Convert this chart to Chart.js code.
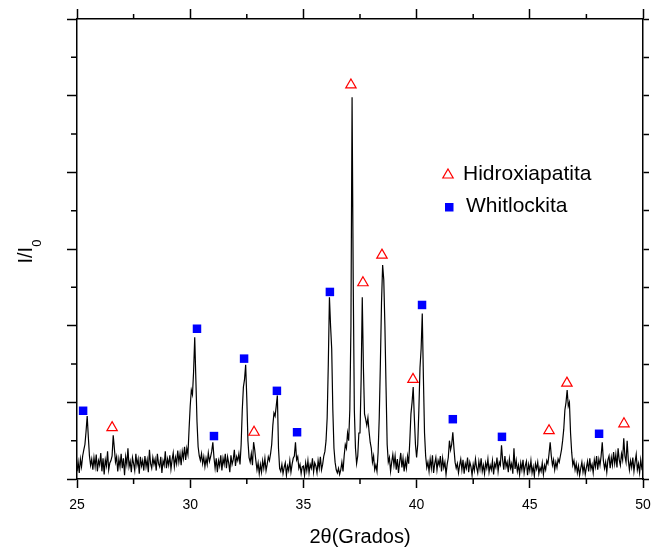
<!DOCTYPE html>
<html>
<head>
<meta charset="utf-8">
<script src="https://cdn.jsdelivr.net/npm/chart.js@4.4.1/dist/chart.umd.min.js"></script>
<style>
  html, body { margin: 0; padding: 0; background: #fff; }
  #wrap { width: 656px; height: 553px; position: relative; }
</style>
</head>
<body>
<div id="wrap"><canvas id="xrdChart"></canvas></div>
<script>
// Scan grid (2theta, degrees)
const thetaStart = 25;
const thetaStep = 0.05;

// Measured intensity, one row = 0.5 degree (10 samples)
const intensity = [
  0.10, 0.22, 0.08, 0.26, 0.16, 0.30, 0.38, 0.45, 0.62, 0.82, // 25.0
  0.55, 0.30, 0.18, 0.26, 0.12, 0.28, 0.16, 0.32, 0.10, 0.24, // 25.5
  0.18, 0.34, 0.10, 0.27, 0.06, 0.25, 0.17, 0.36, 0.12, 0.21, // 26.0
  0.24, 0.30, 0.57, 0.40, 0.22, 0.29, 0.10, 0.26, 0.16, 0.33, // 26.5
  0.14, 0.27, 0.05, 0.29, 0.19, 0.40, 0.16, 0.23, 0.09, 0.28, // 27.0
  0.20, 0.11, 0.33, 0.18, 0.26, 0.07, 0.29, 0.17, 0.24, 0.11, // 27.5
  0.30, 0.16, 0.25, 0.09, 0.38, 0.20, 0.14, 0.28, 0.19, 0.26, // 28.0
  0.11, 0.33, 0.20, 0.16, 0.29, 0.08, 0.24, 0.18, 0.36, 0.14, // 28.5
  0.26, 0.18, 0.31, 0.13, 0.25, 0.34, 0.16, 0.28, 0.20, 0.37, // 29.0
  0.22, 0.33, 0.18, 0.36, 0.27, 0.42, 0.25, 0.40, 0.32, 0.65, // 29.5
  0.95, 1.16, 1.10, 1.40, 1.85, 1.30, 0.75, 0.42, 0.30, 0.24, // 30.0
  0.33, 0.20, 0.29, 0.16, 0.27, 0.19, 0.34, 0.23, 0.29, 0.36, // 30.5
  0.48, 0.28, 0.14, 0.27, 0.09, 0.24, 0.17, 0.31, 0.11, 0.27, // 31.0
  0.19, 0.33, 0.14, 0.29, 0.21, 0.09, 0.31, 0.19, 0.25, 0.38, // 31.5
  0.17, 0.29, 0.24, 0.33, 0.19, 0.45, 0.90, 1.20, 1.30, 1.49, // 32.0
  1.05, 0.50, 0.28, 0.22, 0.33, 0.18, 0.48, 0.38, 0.24, 0.12, // 32.5
  0.21, 0.07, 0.19, 0.09, 0.24, 0.14, 0.27, 0.11, 0.19, 0.29, // 33.0
  0.24, 0.33, 0.45, 0.70, 0.86, 0.82, 0.95, 1.09, 0.40, 0.14, // 33.5
  0.10, 0.19, 0.07, 0.15, 0.21, 0.05, 0.17, 0.11, 0.24, 0.09, // 34.0
  0.19, 0.27, 0.30, 0.48, 0.25, 0.29, 0.14, 0.19, 0.07, 0.16, // 34.5
  0.17, 0.05, 0.21, 0.11, 0.24, 0.08, 0.19, 0.14, 0.27, 0.09, // 35.0
  0.21, 0.17, 0.08, 0.24, 0.14, 0.29, 0.12, 0.19, 0.30, 0.36, // 35.5
  0.50, 0.80, 1.50, 2.37, 2.00, 1.70, 0.90, 0.40, 0.22, 0.12, // 36.0
  0.08, 0.14, 0.06, 0.12, 0.22, 0.10, 0.30, 0.45, 0.40, 0.60, // 36.5
  0.50, 0.90, 2.00, 4.98, 2.60, 0.90, 0.40, 0.20, 0.30, 0.60, // 37.0
  0.60, 1.30, 2.37, 1.46, 0.85, 0.78, 0.70, 0.80, 0.62, 0.48, // 37.5
  0.40, 0.22, 0.30, 0.12, 0.18, 0.10, 0.35, 0.80, 1.50, 2.30, // 38.0
  2.79, 2.60, 2.00, 1.20, 0.45, 0.22, 0.28, 0.10, 0.22, 0.32, // 38.5
  0.18, 0.30, 0.12, 0.26, 0.08, 0.22, 0.34, 0.15, 0.27, 0.10, // 39.0
  0.24, 0.14, 0.30, 0.20, 0.50, 0.85, 1.00, 1.20, 0.80, 0.45, // 39.5
  0.28, 0.45, 0.90, 1.45, 1.70, 2.16, 1.33, 0.60, 0.30, 0.15, // 40.0
  0.22, 0.10, 0.26, 0.14, 0.31, 0.08, 0.20, 0.28, 0.12, 0.24, // 40.5
  0.18, 0.30, 0.10, 0.27, 0.15, 0.22, 0.06, 0.19, 0.28, 0.50, // 41.0
  0.38, 0.45, 0.61, 0.40, 0.22, 0.14, 0.20, 0.08, 0.18, 0.26, // 41.5
  0.12, 0.25, 0.07, 0.20, 0.14, 0.28, 0.09, 0.22, 0.16, 0.05, // 42.0
  0.19, 0.11, 0.26, 0.15, 0.08, 0.23, 0.13, 0.27, 0.10, 0.18, // 42.5
  0.07, 0.21, 0.14, 0.26, 0.09, 0.18, 0.12, 0.24, 0.06, 0.20, // 43.0
  0.15, 0.28, 0.10, 0.22, 0.18, 0.44, 0.25, 0.12, 0.30, 0.16, // 43.5
  0.22, 0.09, 0.26, 0.14, 0.20, 0.07, 0.40, 0.13, 0.24, 0.10, // 44.0
  0.18, 0.06, 0.21, 0.12, 0.25, 0.08, 0.17, 0.23, 0.05, 0.19, // 44.5
  0.11, 0.24, 0.08, 0.16, 0.04, 0.20, 0.13, 0.22, 0.07, 0.15, // 45.0
  0.10, 0.21, 0.06, 0.18, 0.12, 0.24, 0.20, 0.33, 0.48, 0.30, // 45.5
  0.18, 0.25, 0.12, 0.22, 0.15, 0.26, 0.22, 0.30, 0.38, 0.50, // 46.0
  0.65, 0.90, 1.00, 1.16, 0.95, 1.00, 0.60, 0.35, 0.18, 0.24, // 46.5
  0.12, 0.20, 0.08, 0.17, 0.05, 0.14, 0.22, 0.09, 0.18, 0.06, // 47.0
  0.15, 0.23, 0.10, 0.27, 0.13, 0.19, 0.08, 0.25, 0.16, 0.30, // 47.5
  0.12, 0.26, 0.18, 0.30, 0.48, 0.24, 0.14, 0.22, 0.09, 0.25, // 48.0
  0.30, 0.14, 0.28, 0.18, 0.35, 0.20, 0.32, 0.15, 0.40, 0.25, // 48.5
  0.18, 0.33, 0.25, 0.53, 0.30, 0.22, 0.50, 0.25, 0.12, 0.24, // 49.0
  0.15, 0.28, 0.10, 0.22, 0.32, 0.12, 0.20, 0.08, 0.25, 0.14, // 49.5
  0.18                                                        // 50.0
];

// Phase markers
const hapTheta = [26.55, 32.82, 37.10, 37.63, 38.47, 39.84, 45.85, 46.64, 49.16];
const hapLevel = [0.67, 0.61, 5.14, 2.56, 2.92, 1.30, 0.63, 1.25, 0.72];
const whitTheta = [25.27, 30.30, 31.05, 32.38, 33.83, 34.72, 36.17, 40.24, 41.60, 43.77, 48.06];
const whitLevel = [0.89, 1.96, 0.56, 1.57, 1.15, 0.61, 2.44, 2.27, 0.78, 0.55, 0.59];

// Minor tick positions
const minorTheta = [27.5, 32.5, 37.5, 42.5, 47.5];
const minorLevel = [0.5, 1.5, 2.5, 3.5, 4.5, 5.5];

const FONT = '"Liberation Sans", Arial, sans-serif';

const patternPoints = intensity.map((v, i) => ({ x: thetaStart + i * thetaStep, y: v }));
const hapPoints = hapTheta.map((t, i) => ({ x: t, y: hapLevel[i] }));
const whitPoints = whitTheta.map((t, i) => ({ x: t, y: whitLevel[i] }));

// minor ticks, axis titles and the legend box
const framePlugin = {
    id: 'frame',
    afterDraw(chart) {
        const { ctx, chartArea: a, scales } = chart;
        ctx.save();
        ctx.strokeStyle = '#000';
        ctx.lineWidth = 1.5;
        ctx.beginPath();
        minorTheta.forEach(t => {
            const px = scales.x.getPixelForValue(t);
            ctx.moveTo(px, a.bottom); ctx.lineTo(px, a.bottom + 5);
            ctx.moveTo(px, a.top); ctx.lineTo(px, a.top - 5);
        });
        minorLevel.forEach(v => {
            const py = scales.y.getPixelForValue(v);
            ctx.moveTo(a.left, py); ctx.lineTo(a.left - 6, py);
        });
        ctx.stroke();

        ctx.fillStyle = '#000';
        ctx.font = '20px ' + FONT;
        ctx.textAlign = 'center';
        ctx.textBaseline = 'middle';
        ctx.fillText('2\u03b8(Grados)', (a.left + a.right) / 2, 537);

        // I/I0 rotated
        ctx.save();
        ctx.translate(32, 263.5);
        ctx.rotate(-Math.PI / 2);
        ctx.textAlign = 'left';
        ctx.textBaseline = 'alphabetic';
        ctx.font = '20px ' + FONT;
        ctx.fillText('I/I', 0, 0);
        const w = ctx.measureText('I/I').width;
        ctx.font = '13px ' + FONT;
        ctx.fillText('0', w, 9);
        ctx.restore();

        // legend
        ctx.lineWidth = 1.2;
        ctx.strokeStyle = '#ff0000';
        ctx.fillStyle = 'rgba(255,255,255,0)';
        Chart.helpers.drawPoint(ctx, { pointStyle: 'triangle', radius: 6, rotation: 0, borderWidth: 1.2 }, 448, 175);
        ctx.fillStyle = '#0000ff';
        ctx.fillRect(445, 203, 8.5, 8.5);
        ctx.fillStyle = '#000';
        ctx.font = '21px ' + FONT;
        ctx.textAlign = 'left';
        ctx.textBaseline = 'middle';
        ctx.fillText('Hidroxiapatita', 463, 174);
        ctx.fillText('Whitlockita', 466, 206);
        ctx.restore();
    }
};

const axisGrid = (len) => ({
    display: true,
    drawOnChartArea: false,
    drawTicks: true,
    tickLength: len,
    tickWidth: 1.5,
    tickColor: '#000',
    color: '#000'
});
const axisBorder = { display: true, color: '#000', width: 1.5 };

// fixed box sizes so the plot area lands where the reference has it
const fixBox = (h, w) => s => {
    if (h !== null) s.height = h;
    if (w !== null) s.width = w;
    s.paddingLeft = 0; s.paddingRight = 0; s.paddingTop = 0; s.paddingBottom = 0;
};

const xrdCtx = document.getElementById('xrdChart').getContext('2d');
new Chart(xrdCtx, {
    type: 'scatter',
    data: {
        datasets: [{
            label: 'Hidroxiapatita',
            data: hapPoints,
            pointStyle: 'triangle',
            pointRadius: 6,
            borderColor: '#ff0000',
            backgroundColor: 'rgba(255,255,255,0)',
            borderWidth: 1.2,
            showLine: false
        }, {
            label: 'Whitlockita',
            data: whitPoints,
            pointStyle: 'rect',
            pointRadius: 6,
            borderColor: '#0000ff',
            backgroundColor: '#0000ff',
            borderWidth: 0,
            showLine: false
        }, {
            label: 'pattern',
            data: patternPoints,
            showLine: true,
            borderColor: '#000',
            borderWidth: 1.2,
            pointRadius: 0,
            tension: 0
        }]
    },
    options: {
        responsive: true,
        maintainAspectRatio: false,
        animation: false,
        layout: { padding: 0 },
        plugins: {
            legend: { display: false },
            tooltip: { enabled: false }
        },
        scales: {
            x: {
                type: 'linear', position: 'bottom', min: 25, max: 50,
                ticks: { stepSize: 5, color: '#000', font: { family: FONT, size: 14 }, padding: 9, maxRotation: 0 },
                grid: axisGrid(9), border: axisBorder,
                afterFit: fixBox(74, null)
            },
            x2: {
                type: 'linear', position: 'top', min: 25, max: 50, display: true,
                ticks: { stepSize: 5, display: false },
                grid: axisGrid(10), border: axisBorder,
                afterFit: fixBox(19, null)
            },
            y: {
                type: 'linear', position: 'left', min: 0, max: 6,
                ticks: { stepSize: 1, display: false },
                grid: axisGrid(10), border: axisBorder,
                afterFit: fixBox(null, 77)
            },
            y2: {
                type: 'linear', position: 'right', min: 0, max: 6, display: true,
                ticks: { stepSize: 0.5, display: false },
                grid: axisGrid(6), border: axisBorder,
                afterFit: fixBox(null, 13)
            }
        }
    },
    plugins: [framePlugin]
});
</script>
</body>
</html>
